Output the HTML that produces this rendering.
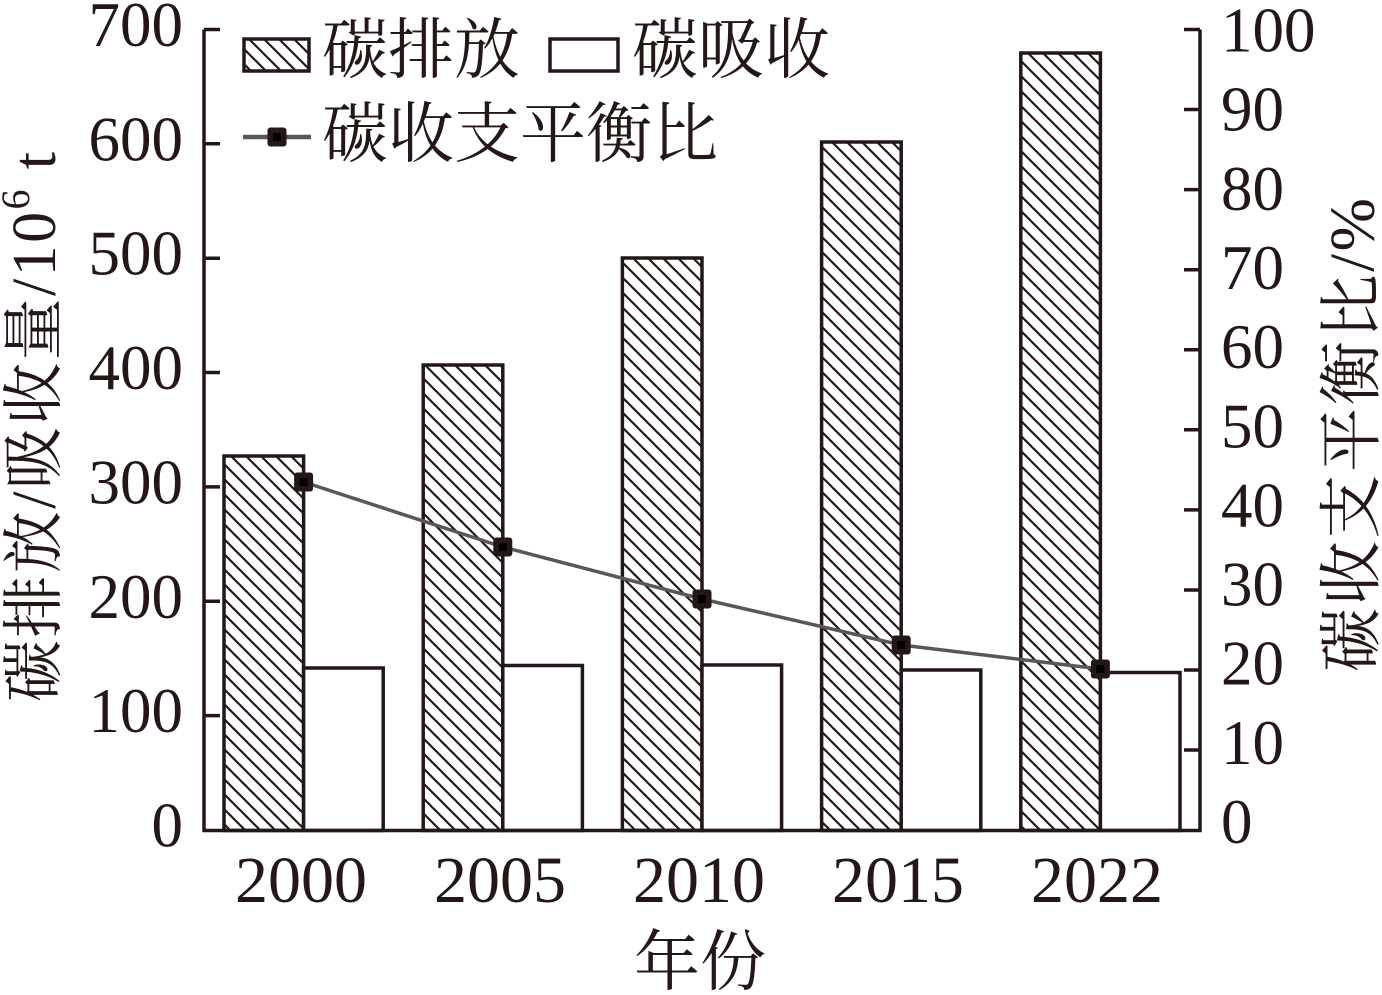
<!DOCTYPE html>
<html>
<head>
<meta charset="utf-8">
<style>
  html, body { margin: 0; padding: 0; background: #ffffff; }
  svg { display: block; }
  .num { font-family: "Liberation Serif", "Noto Serif CJK SC", serif; fill: #231815; }
  .cjk { font-family: "Liberation Serif", "Noto Serif CJK SC", serif; fill: #231815; }
</style>
</head>
<body>
<svg width="1382" height="995" viewBox="0 0 1382 995" xmlns="http://www.w3.org/2000/svg">
  <defs>
    <pattern id="hatch" patternUnits="userSpaceOnUse" width="15" height="15">
      <rect width="15" height="15" fill="#ffffff"/>
      <path d="M-2,-2 L17,17 M-2,13 L2,17 M13,-2 L17,2" stroke="#231815" stroke-width="2.2" fill="none"/>
    </pattern>
  </defs>

  <!-- Bars -->
  <g stroke="#231815" stroke-width="3.5">
    <!-- 2000 -->
    <rect x="224" y="456" width="79.6" height="374.5" fill="url(#hatch)"/>
    <rect x="303.6" y="668" width="79.6" height="162.5" fill="#ffffff"/>
    <!-- 2005 -->
    <rect x="423.2" y="365" width="79.6" height="465.5" fill="url(#hatch)"/>
    <rect x="502.8" y="665.5" width="79.6" height="165" fill="#ffffff"/>
    <!-- 2010 -->
    <rect x="622.4" y="258" width="79.6" height="572.5" fill="url(#hatch)"/>
    <rect x="702" y="665" width="79.6" height="165.5" fill="#ffffff"/>
    <!-- 2015 -->
    <rect x="821.6" y="142" width="79.6" height="688.5" fill="url(#hatch)"/>
    <rect x="901.2" y="670" width="79.6" height="160.5" fill="#ffffff"/>
    <!-- 2022 -->
    <rect x="1020.8" y="53" width="79.6" height="777.5" fill="url(#hatch)"/>
    <rect x="1100.4" y="672.5" width="79.6" height="158" fill="#ffffff"/>
  </g>

  <!-- Axes -->
  <g stroke="#231815" stroke-width="3.5" fill="none">
    <path d="M204,29.5 L204,830.5 L1200,830.5 L1200,29.5"/>
    <!-- left ticks -->
    <path d="M204,29.5 H220 M204,143.8 H220 M204,258.2 H220 M204,372.5 H220 M204,486.9 H220 M204,601.3 H220 M204,715.6 H220"/>
    <!-- right ticks -->
    <path d="M1184,29.5 H1200 M1184,109.5 H1200 M1184,189.6 H1200 M1184,269.7 H1200 M1184,349.8 H1200 M1184,429.8 H1200 M1184,509.9 H1200 M1184,590 H1200 M1184,670 H1200 M1184,750 H1200"/>
  </g>

  <!-- Balance ratio line -->
  <polyline points="303.6,482 502.8,547 702,599 901.2,645 1100.4,669" fill="none" stroke="#595757" stroke-width="3.5"/>
  <g>
    <rect x="294.1" y="472.5" width="19" height="19" rx="3" fill="#231815"/>
    <rect x="299.6" y="478" width="8" height="8" fill="#000"/>
    <rect x="493.3" y="537.5" width="19" height="19" rx="3" fill="#231815"/>
    <rect x="498.8" y="543" width="8" height="8" fill="#000"/>
    <rect x="692.5" y="589.5" width="19" height="19" rx="3" fill="#231815"/>
    <rect x="698" y="595" width="8" height="8" fill="#000"/>
    <rect x="891.7" y="635.5" width="19" height="19" rx="3" fill="#231815"/>
    <rect x="897.2" y="641" width="8" height="8" fill="#000"/>
    <rect x="1090.9" y="659.5" width="19" height="19" rx="3" fill="#231815"/>
    <rect x="1096.4" y="665" width="8" height="8" fill="#000"/>
  </g>

  <!-- Left tick labels -->
  <g class="num" font-size="63" text-anchor="end">
    <text x="183" y="46">700</text>
    <text x="183" y="160.3">600</text>
    <text x="183" y="274.7">500</text>
    <text x="183" y="389">400</text>
    <text x="183" y="503.4">300</text>
    <text x="183" y="617.8">200</text>
    <text x="183" y="732.1">100</text>
    <text x="183" y="846.5">0</text>
  </g>

  <!-- Right tick labels -->
  <g class="num" font-size="63" text-anchor="start">
    <text x="1221" y="51.5">100</text>
    <text x="1221" y="130.7">90</text>
    <text x="1221" y="209.8">80</text>
    <text x="1221" y="289">70</text>
    <text x="1221" y="368.1">60</text>
    <text x="1221" y="447.3">50</text>
    <text x="1221" y="526.4">40</text>
    <text x="1221" y="605.6">30</text>
    <text x="1221" y="684.7">20</text>
    <text x="1221" y="763.9">10</text>
    <text x="1221" y="843">0</text>
  </g>

  <!-- X tick labels -->
  <g class="num" font-size="66" text-anchor="middle">
    <text x="301" y="902">2000</text>
    <text x="500" y="902">2005</text>
    <text x="699" y="902">2010</text>
    <text x="898" y="902">2015</text>
    <text x="1097" y="902">2022</text>
  </g>

  <!-- X axis title -->
  <text class="cjk" x="700" y="963" font-size="66" text-anchor="middle" dominant-baseline="central">年份</text>

  <!-- Left axis title -->
  <text class="cjk" font-size="62" text-anchor="middle" dominant-baseline="central"
        transform="translate(35,427) rotate(-90)" x="0" y="0" textLength="550" lengthAdjust="spacing">碳排放/吸收量/10<tspan font-size="40" dy="-20">6</tspan><tspan dy="20"> t</tspan></text>

  <!-- Right axis title -->
  <text class="cjk" font-size="64" text-anchor="middle" dominant-baseline="central"
        transform="translate(1352,435) rotate(-90)" x="0" y="0" textLength="474" lengthAdjust="spacing">碳收支平衡比/%</text>

  <!-- Legend -->
  <rect x="244" y="39" width="65" height="32" fill="url(#hatch)" stroke="#231815" stroke-width="3.5"/>
  <text class="cjk" x="322" y="51" font-size="66" dominant-baseline="central">碳排放</text>
  <rect x="550" y="39" width="68" height="32" fill="#ffffff" stroke="#231815" stroke-width="3.5"/>
  <text class="cjk" x="632" y="51" font-size="66" dominant-baseline="central">碳吸收</text>
  <line x1="243" y1="137" x2="311" y2="137" stroke="#595757" stroke-width="4.5"/>
  <rect x="267.5" y="127.5" width="19" height="19" rx="3" fill="#231815"/>
  <rect x="273" y="133" width="8" height="8" fill="#000"/>
  <text class="cjk" x="322" y="135" font-size="66" dominant-baseline="central">碳收支平衡比</text>
</svg>
</body>
</html>
